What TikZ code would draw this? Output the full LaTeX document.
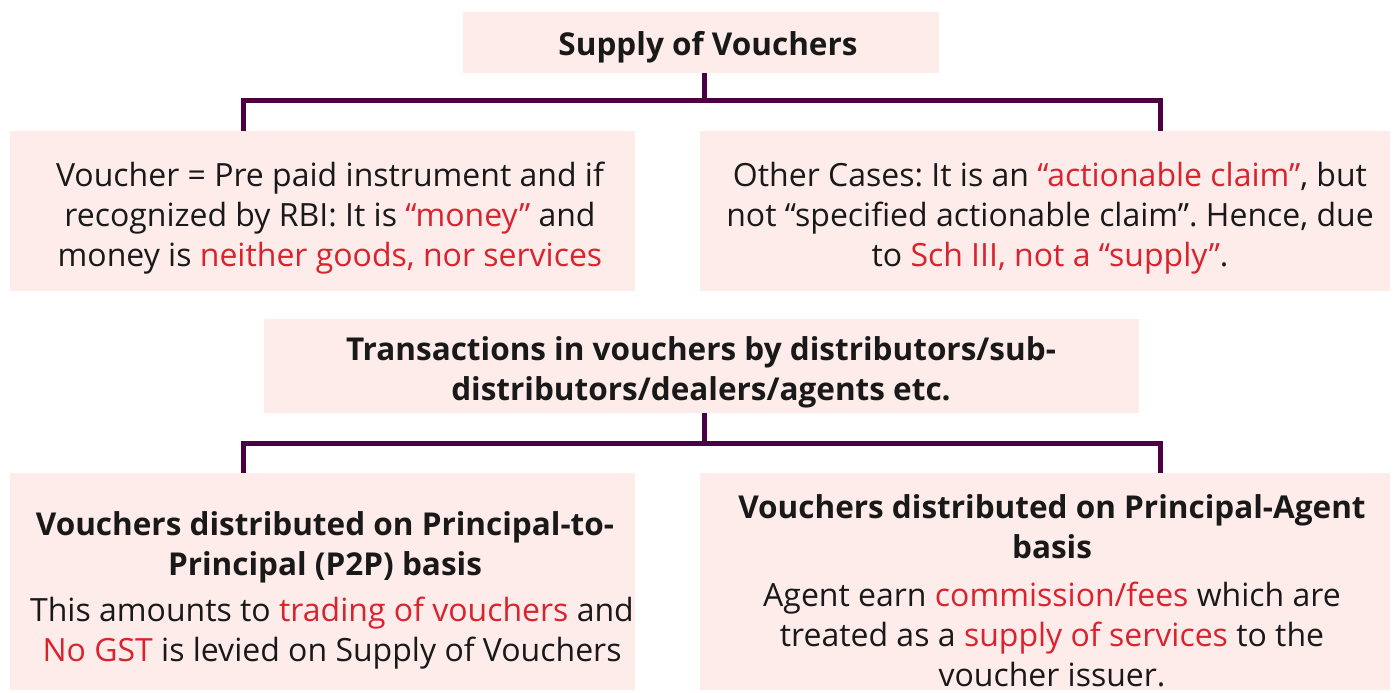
\documentclass[tikz,border=0pt]{standalone}
\usepackage{fontspec}
\setmainfont{Open Sans}
\frenchspacing
\definecolor{boxpink}{HTML}{FDECEA}
\definecolor{hl}{HTML}{D9232E}
\definecolor{conncol}{HTML}{4A0042}
\newcommand{\hlt}[1]{\textcolor{hl}{#1}}
\begin{document}
\frenchspacing
\begin{tikzpicture}[x=1pt,y=-1pt,
  box/.style={fill=boxpink, draw=none, inner sep=0pt},
  txt/.style={align=center, inner sep=0pt, font=\fontsize{32}{40}\selectfont, text=black!90},
  btxt/.style={txt, font=\fontsize{31.5}{40}\selectfont\bfseries},
  conn/.style={draw=conncol, line width=5pt}]
\useasboundingbox (0,0) rectangle (1397,693);
% boxes
\node[box, minimum width=476pt, minimum height=61pt] (top) at (701,42.5) {};
\node[box, minimum width=625pt, minimum height=160pt] (left) at (322.5,211) {};
\node[box, minimum width=690pt, minimum height=160pt] (right) at (1045,211) {};
\node[box, minimum width=875pt, minimum height=94pt] (mid) at (701.5,366) {};
\node[box, minimum width=625pt, minimum height=217pt] (bl) at (322.5,581.5) {};
\node[box, minimum width=690pt, minimum height=217pt] (br) at (1045,581.5) {};
% connectors
\coordinate (j1) at (704,100);
\coordinate (l1) at (243,131);
\coordinate (r1) at (1160,131);
\coordinate (j2) at (704,443);
\coordinate (l2) at (243,473);
\coordinate (r2) at (1160,473);
\draw[conn] (top.south -| j1) -- (j1);
\draw[conn] (j1) -| (l1);
\draw[conn] (j1) -| (r1);
\draw[conn] (mid.south -| j2) -- (j2);
\draw[conn] (j2) -| (l2);
\draw[conn] (j2) -| (r2);
% texts
\node[btxt] (ttop) at (708,47) {Supply of Vouchers};
\node[txt] (tleft) at (330,218) {Voucher = Pre paid instrument and if\\
recognized by RBI: It is \hlt{“money”} and\\
money is \hlt{neither goods, nor services}};
\node[txt] (tright) at (1050,218) {Other Cases: It is an \hlt{“actionable claim”}, but\\
not “specified actionable claim”. Hence, due\\
to \hlt{Sch III, not a “supply”}.};
\node[btxt] (tmid) at (701,372) {Transactions in vouchers by distributors/sub-\\
distributors/dealers/agents etc.};
\node[btxt] (tbl1) at (325,547) {Vouchers distributed on Principal-to-\\
Principal (P2P) basis};
\node[txt] (tbl2) at (332,633) {This amounts to \hlt{trading of vouchers} and\\
\hlt{No GST} is levied on Supply of Vouchers};
\node[btxt] (tbr1) at (1052,527) {Vouchers distributed on Principal-Agent\\
basis};
\node[txt] (tbr2) at (1052,634) {Agent earn \hlt{commission/fees} which are\\
treated as a \hlt{supply of services} to the\\
voucher issuer.};
\end{tikzpicture}
\end{document}
